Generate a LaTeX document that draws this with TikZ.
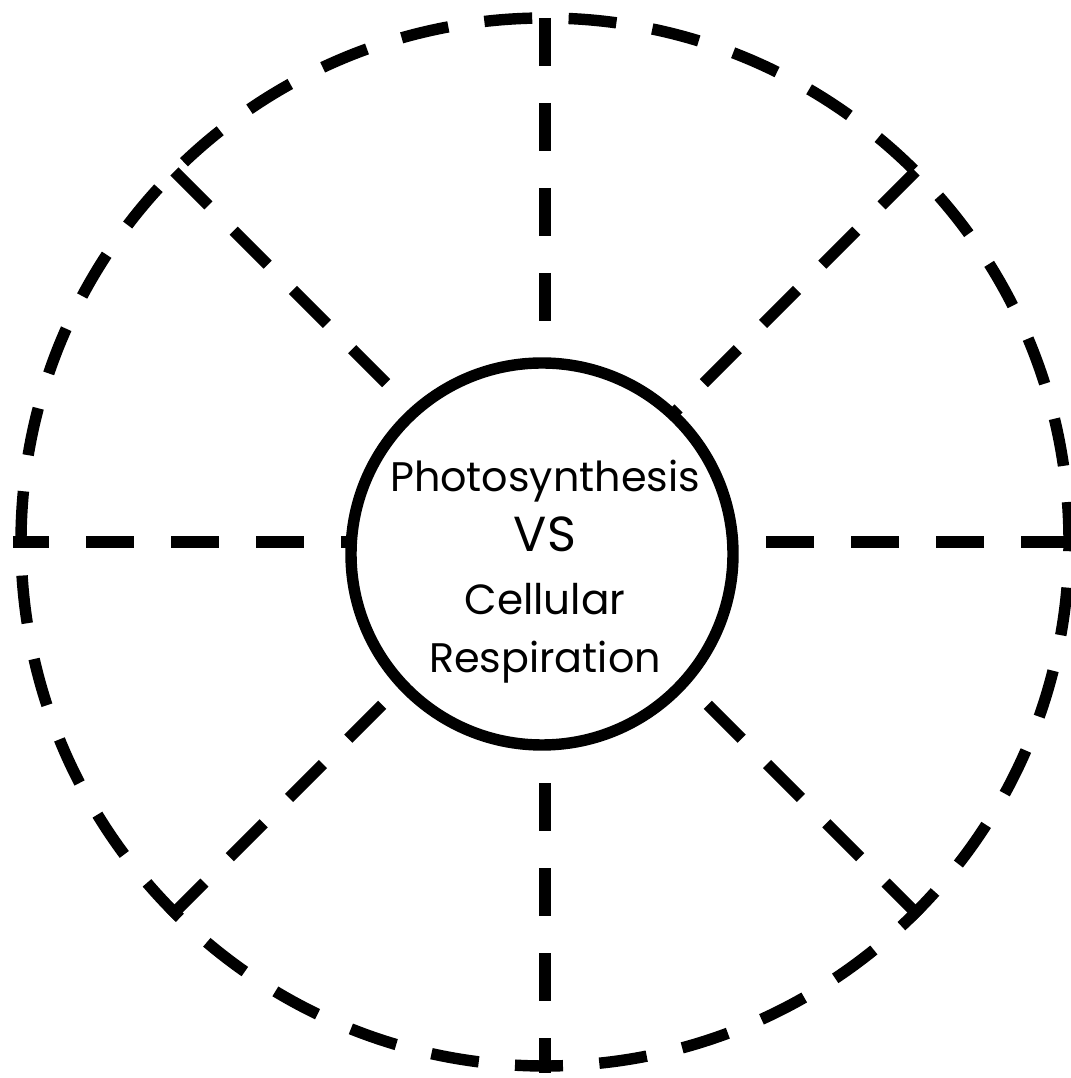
\documentclass[tikz,border=0pt]{standalone}
\usepackage{fontspec}
\setmainfont{Poppins}
\usetikzlibrary{positioning}
\tikzstyle{rimcircle} = [circle, draw=black, line width=6.5pt, inner sep=0pt, outer sep=0pt, minimum size=20.96cm, dash pattern=on 0.96cm off 0.728cm, dash phase=0.16cm]
\tikzstyle{hubcircle} = [circle, draw=black, fill=white, line width=6.5pt, inner sep=0pt, outer sep=0pt, minimum size=7.64cm]
\tikzstyle{spokeline} = [line width=6.5pt, dash pattern=on 0.96cm off 0.74cm, shorten >=-0.15cm]
\tikzstyle{slantline} = [spokeline, dash pattern=on 0.96cm off 0.716cm]
\tikzstyle{words} = [inner sep=0pt, anchor=base]

\begin{document}
\begin{tikzpicture}
\useasboundingbox (0,0) rectangle (21.42,21.56);
% outer ring
\node (rim) [rimcircle] at (10.9,10.72) {};

% spokes across the ring
\foreach \a/\b/\s in {0/180/spokeline, 90/270/spokeline, 135/315/slantline, 45/225/slantline}
  \draw [\s] (rim.\a) -- (rim.\b);

% centre circle and title
\node (hub) [hubcircle] at (10.84,10.48) {};
\node (photo) [words] at (10.9,11.72) {\fontsize{23.5}{28}\selectfont Photosynthesis};
\node (vs) [words, below=1.2cm of photo.base, anchor=base] {\fontsize{28}{32}\selectfont VS};
\node (cell) [words, below=1.26cm of vs.base, anchor=base] {\fontsize{24}{28}\selectfont Cellular};
\node (resp) [words, below=1.16cm of cell.base, anchor=base] {\fontsize{23.5}{28}\selectfont Respiration};
\end{tikzpicture}
\end{document}
